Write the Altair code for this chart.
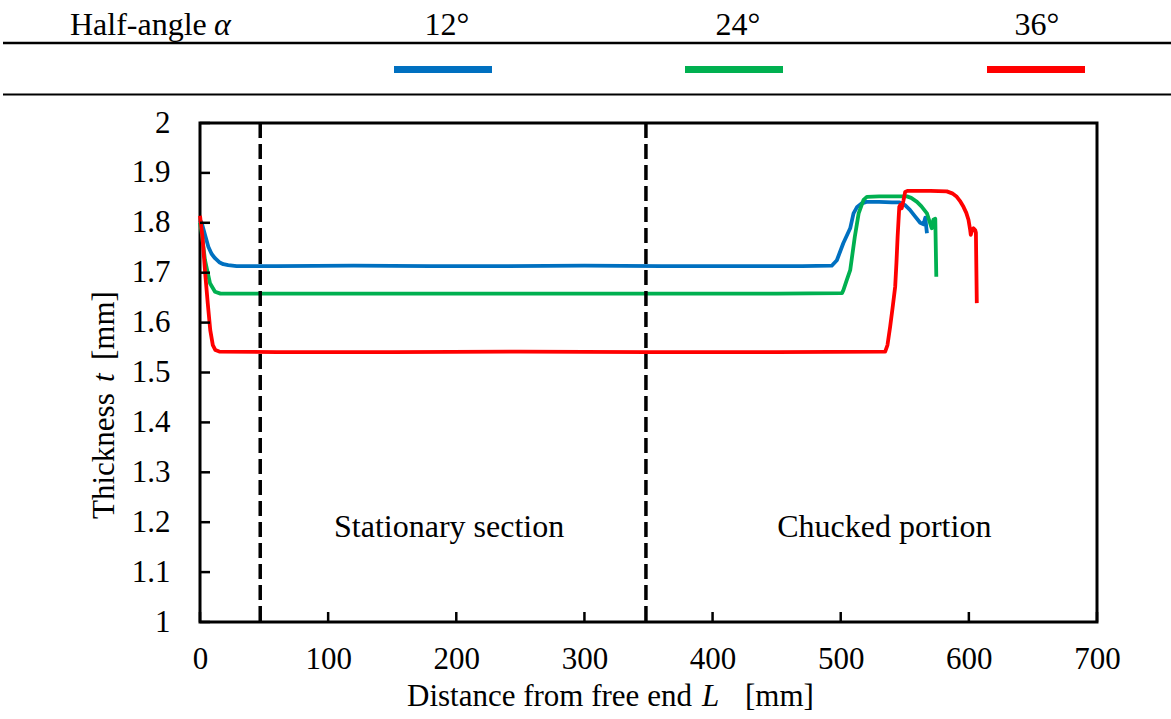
import altair as alt
import pandas as pd

# ---------------- data ----------------
series_names = ["12°", "24°", "36°"]
series_colors = ["#0070C0", "#00B050", "#FF0000"]

x12 = [0, 1.3, 4, 6.5, 9, 11.7, 15, 18.2, 22, 28.6,
       60, 120, 180, 240, 300, 360, 420, 470,
       493, 497, 502, 507.4, 510, 512.6, 516.5, 520, 530, 540, 546,
       550, 554, 558, 562, 564.6, 566, 567.3]
y12 = [1.805, 1.800, 1.775, 1.752, 1.738, 1.729, 1.721, 1.717, 1.715, 1.713,
       1.713, 1.714, 1.713, 1.713, 1.714, 1.713, 1.713, 1.713,
       1.714, 1.725, 1.759, 1.789, 1.819, 1.831, 1.839, 1.842, 1.842, 1.841, 1.841,
       1.836, 1.826, 1.813, 1.800, 1.797, 1.810, 1.779]

x24 = [0, 1.3, 3.9, 7.8, 11.7, 16,
       60, 150, 250, 350, 450,
       501, 502.1, 504.7, 507.4, 511, 514, 517.8, 520.4, 530, 545, 551.7,
       555, 559.5, 563, 567.3, 571, 572.3, 573.8, 574.6]
y24 = [1.800, 1.780, 1.725, 1.679, 1.662, 1.658,
       1.658, 1.658, 1.658, 1.658, 1.658,
       1.659, 1.665, 1.685, 1.705, 1.772, 1.819, 1.846, 1.852, 1.853, 1.853, 1.853,
       1.850, 1.842, 1.833, 1.819, 1.789, 1.806, 1.808, 1.692]

x36 = [0, 2, 4, 6, 8, 10, 12, 15,
       60, 150, 250, 350, 450,
       534.7, 536.5, 538.6, 540.5, 542.5, 543.5, 544.4, 545.7, 546.5, 547.6, 549, 550.3, 552,
       570, 582.8, 587, 590.6, 593, 595.8, 598, 599.7, 601, 601.5, 602.5, 603.6, 605, 605.5, 606.2]
y36 = [1.814, 1.770, 1.700, 1.640, 1.585, 1.555, 1.545, 1.542,
       1.541, 1.541, 1.542, 1.541, 1.541,
       1.542, 1.555, 1.592, 1.630, 1.672, 1.720, 1.772, 1.832, 1.836, 1.829, 1.845, 1.862, 1.864,
       1.864, 1.863, 1.859, 1.852, 1.844, 1.832, 1.820, 1.806, 1.786, 1.776, 1.785, 1.789, 1.785, 1.780, 1.639]

section_x = [47, 348]
annot_labels = ["Stationary section", "Chucked portion"]
annot_x = [194.4, 534]
annot_y = [1.170, 1.170]

x_ticks = [0, 100, 200, 300, 400, 500, 600, 700]
y_ticks = [1.0, 1.1, 1.2, 1.3, 1.4, 1.5, 1.6, 1.7, 1.8, 1.9, 2.0]

# ---------------- tables ----------------
rows = []
for name, xs, ys in zip(series_names, [x12, x24, x36], [y12, y24, y36]):
    assert len(xs) == len(ys)
    for xv, yv in zip(xs, ys):
        rows.append({"series": name, "L": xv, "t": yv})
df = pd.DataFrame(rows)
df_sec = pd.DataFrame({"x": section_x})
df_ann = pd.DataFrame({"x": annot_x, "y": annot_y, "label": annot_labels})
df_xt = pd.DataFrame({"v": x_ticks})
df_yt = pd.DataFrame({"v": y_ticks})
one = pd.DataFrame({"a": [0]})

W, H = 897, 499
FONT = "Liberation Serif"
FS_TICK = 31
FS_TITLE = 31
FS_ANN = 32
FS_HEAD = 32

xscale = alt.Scale(domain=[0, 700], nice=False, zero=False)
yscale = alt.Scale(domain=[1, 2], nice=False, zero=False)

xaxis = alt.Axis(values=x_ticks, title=None, ticks=False, tickSize=0, domain=False,
                 grid=False, labelFont=FONT, labelFontSize=FS_TICK, labelColor="black",
                 labelPadding=22, labelFlush=False, labelOverlap=False)
yaxis = alt.Axis(values=y_ticks, format=".1~f", title=None, ticks=False, tickSize=0,
                 domain=False, grid=False, labelFont=FONT, labelFontSize=FS_TICK,
                 labelColor="black", labelPadding=30, labelOverlap=False)

lines = alt.Chart(df).mark_line(strokeWidth=3.8, strokeJoin="round").encode(
    x=alt.X("L:Q", scale=xscale, axis=xaxis),
    y=alt.Y("t:Q", scale=yscale, axis=yaxis),
    color=alt.Color("series:N", scale=alt.Scale(domain=series_names, range=series_colors),
                    legend=None),
)

dashes = alt.Chart(df_sec).mark_rule(color="black", strokeWidth=3.5, strokeDash=[15, 6]).encode(
    x=alt.X("x:Q", scale=xscale, axis=xaxis)
)

annots = alt.Chart(df_ann).mark_text(font=FONT, fontSize=FS_ANN, color="black",
                                     align="center", baseline="alphabetic").encode(
    x=alt.X("x:Q", scale=xscale, axis=xaxis),
    y=alt.Y("y:Q", scale=yscale, axis=yaxis),
    text="label:N",
)

xt = alt.Chart(df_xt).mark_rule(color="black", strokeWidth=2.5).encode(
    x=alt.X("v:Q", scale=xscale, axis=xaxis), y=alt.value(H), y2=alt.value(H - 10)
)
yt = alt.Chart(df_yt).mark_rule(color="black", strokeWidth=2.5).encode(
    y=alt.Y("v:Q", scale=yscale, axis=yaxis), x=alt.value(0), x2=alt.value(10)
)

layers = [lines, dashes, annots, xt, yt]


def txt(s, x, y, fs, align="left", baseline="alphabetic", italic=False, angle=None):
    kw = dict(font=FONT, fontSize=fs, color="black", align=align, baseline=baseline)
    if italic:
        kw["fontStyle"] = "italic"
    if angle is not None:
        kw["angle"] = angle
    return alt.Chart(one).mark_text(**kw).encode(x=alt.value(x), y=alt.value(y), text=alt.value(s))


def hrule(x1, x2, y, w, color="black"):
    return alt.Chart(one).mark_rule(color=color, strokeWidth=w).encode(
        x=alt.value(x1), x2=alt.value(x2), y=alt.value(y))


# header table
layers.append(hrule(-197, 971, -80, 2.5))
layers.append(hrule(-197, 971, -28.5, 2))
layers.append(txt("Half-angle", -130, -88, FS_HEAD))
layers.append(txt("α", 14, -88, FS_HEAD, italic=True))
for name, col, lx, bx in zip(series_names, series_colors, [247, 538, 837], [243, 534, 836]):
    layers.append(txt(name, lx, -88, FS_HEAD, align="center"))
    layers.append(hrule(bx - 49, bx + 49, -53.5, 7, color=col))

# x title
layers.append(txt("Distance from free end", 207, 583, FS_TITLE))
layers.append(txt("L", 502, 583, FS_TITLE, italic=True))
layers.append(txt("[mm]", 545, 583, FS_TITLE))

# y title (rotated)
layers.append(txt("Thickness", -95, 396, FS_TITLE, baseline="middle", angle=270))
layers.append(txt("t", -95, 259, FS_TITLE, baseline="middle", angle=270, italic=True))
layers.append(txt("[mm]", -95, 237, FS_TITLE, baseline="middle", angle=270))

chart = alt.layer(*layers).properties(
    width=W, height=H,
    autosize=alt.AutoSizeParams(type="none"),
    padding={"left": 200, "top": 123, "right": 74, "bottom": 97},
    background="white",
).configure_view(stroke="black", strokeWidth=3)

chart.save("out.html", embed_options={"renderer": "svg", "actions": False})
